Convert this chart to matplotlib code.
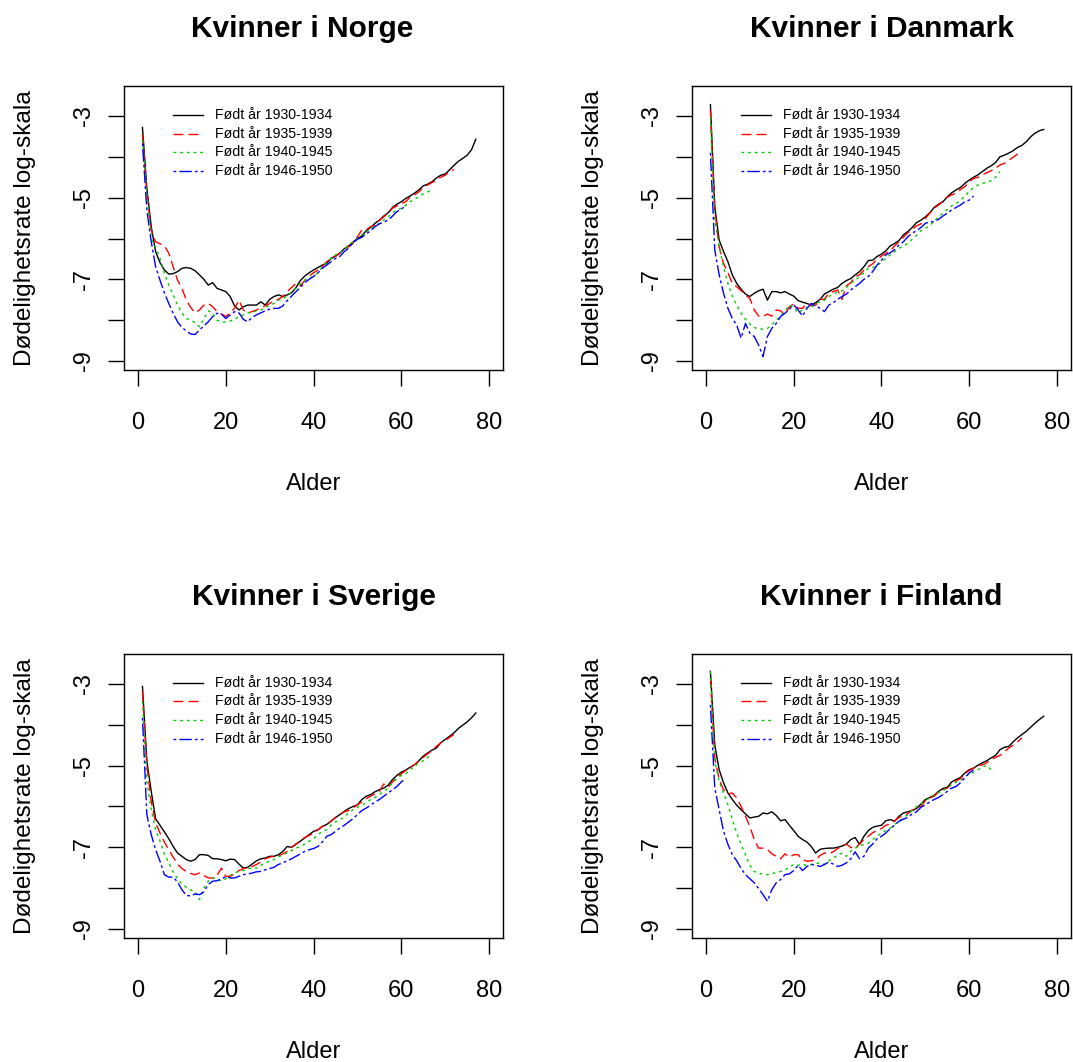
import numpy as np
import matplotlib.pyplot as plt

plt.rcParams['font.family'] = ['Liberation Sans', 'DejaVu Sans']
plt.rcParams['axes.unicode_minus'] = False
plt.rcParams['lines.scale_dashes'] = False

kohorter = ['Født år 1930-1934', 'Født år 1935-1939', 'Født år 1940-1945', 'Født år 1946-1950']
farger = ['black', '#FF0000', '#00CD00', '#0000FF']
linjetyper = ['-', (0, (7.2, 3.6)), (0, (2.0, 2.8)), (0, (2.0, 2.2, 9.0, 2.2))]

# log dødelighetsrate for alder 1, 2, 3, ...
norge_1930 = [-3.28, -4.77, -5.71, -6.32, -6.59, -6.77, -6.87, -6.86, -6.81, -6.73,
              -6.71, -6.73, -6.79, -6.89, -7.00, -7.14, -7.08, -7.22, -7.26, -7.30,
              -7.42, -7.65, -7.75, -7.67, -7.63, -7.63, -7.63, -7.55, -7.63, -7.49,
              -7.42, -7.38, -7.42, -7.38, -7.33, -7.20, -7.03, -6.92, -6.84, -6.77,
              -6.71, -6.65, -6.61, -6.49, -6.43, -6.36, -6.25, -6.18, -6.09, -6.00,
              -5.94, -5.81, -5.73, -5.63, -5.55, -5.45, -5.37, -5.24, -5.16, -5.10,
              -5.02, -4.96, -4.89, -4.81, -4.71, -4.67, -4.61, -4.52, -4.45, -4.42,
              -4.32, -4.21, -4.11, -4.04, -3.96, -3.83, -3.57]
norge_1935 = [-3.45, -4.89, -5.79, -6.08, -6.13, -6.18, -6.36, -6.69, -7.02, -7.22,
              -7.51, -7.69, -7.82, -7.75, -7.63, -7.59, -7.67, -7.79, -7.85, -7.91,
              -7.82, -7.71, -7.51, -7.75, -7.82, -7.79, -7.75, -7.69, -7.65, -7.59,
              -7.52, -7.49, -7.42, -7.30, -7.20, -7.10, -7.16, -7.03, -6.92, -6.84,
              -6.77, -6.69, -6.57, -6.49, -6.44, -6.36, -6.27, -6.20, -6.12, -5.96,
              -5.79, -5.79, -5.71, -5.67, -5.56, -5.47, -5.38, -5.26, -5.20, -5.14,
              -5.10, -4.99, -4.93, -4.86, -4.75, -4.69, -4.63, -4.57, -4.50, -4.45,
              -4.36, -4.31]
norge_1940 = [-3.59, -4.89, -6.00, -6.22, -6.49, -6.85, -7.14, -7.38, -7.63, -7.82,
              -7.96, -8.00, -8.06, -8.16, -7.96, -7.77, -7.83, -8.00, -8.05, -8.04,
              -8.02, -7.98, -7.91, -7.87, -7.82, -7.82, -7.77, -7.75, -7.69, -7.63,
              -7.59, -7.51, -7.47, -7.41, -7.30, -7.22, -7.11, -7.02, -6.98, -6.92,
              -6.84, -6.69, -6.59, -6.49, -6.40, -6.36, -6.27, -6.16, -6.08, -6.00,
              -5.91, -5.86, -5.75, -5.69, -5.63, -5.55, -5.47, -5.37, -5.30, -5.26,
              -5.19, -5.10, -5.04, -4.98, -4.91, -4.86, -4.81]
norge_1946 = [-3.67, -5.30, -6.08, -6.69, -7.02, -7.33, -7.59, -7.83, -8.04, -8.18,
              -8.26, -8.34, -8.35, -8.24, -8.14, -8.04, -7.91, -7.83, -7.85, -7.96,
              -7.87, -7.79, -7.82, -7.98, -8.04, -7.93, -7.87, -7.82, -7.77, -7.73,
              -7.71, -7.71, -7.65, -7.52, -7.41, -7.30, -7.20, -7.08, -7.00, -6.93,
              -6.84, -6.73, -6.65, -6.57, -6.49, -6.44, -6.32, -6.24, -6.10, -6.02,
              -5.97, -5.89, -5.81, -5.71, -5.64, -5.60, -5.55, -5.45, -5.34, -5.29,
              -5.18]

danmark_1930 = [-2.72, -5.22, -6.04, -6.32, -6.57, -6.89, -7.10, -7.24, -7.36, -7.42,
                -7.34, -7.28, -7.24, -7.51, -7.30, -7.30, -7.33, -7.30, -7.36, -7.41,
                -7.52, -7.56, -7.59, -7.63, -7.57, -7.49, -7.36, -7.30, -7.24, -7.20,
                -7.10, -7.03, -6.98, -6.89, -6.81, -6.69, -6.54, -6.53, -6.44, -6.38,
                -6.30, -6.18, -6.12, -6.05, -5.91, -5.83, -5.73, -5.61, -5.55, -5.47,
                -5.37, -5.24, -5.16, -5.10, -4.98, -4.88, -4.81, -4.75, -4.65, -4.57,
                -4.50, -4.44, -4.36, -4.28, -4.22, -4.14, -4.00, -3.96, -3.91, -3.85,
                -3.77, -3.72, -3.63, -3.51, -3.42, -3.36, -3.33]
danmark_1935 = [-2.85, -5.30, -6.20, -6.61, -6.84, -7.10, -7.18, -7.28, -7.38, -7.47,
                -7.75, -7.90, -7.91, -7.85, -7.90, -7.75, -7.77, -7.87, -7.67, -7.60,
                -7.71, -7.71, -7.59, -7.65, -7.63, -7.49, -7.49, -7.34, -7.30, -7.26,
                -7.49, -7.16, -7.08, -6.93, -6.89, -6.77, -6.69, -6.62, -6.51, -6.43,
                -6.36, -6.30, -6.18, -6.08, -5.97, -5.86, -5.78, -5.69, -5.64, -5.51,
                -5.38, -5.26, -5.18, -5.09, -4.99, -4.93, -4.89, -4.80, -4.73, -4.61,
                -4.53, -4.50, -4.44, -4.39, -4.34, -4.28, -4.20, -4.16, -4.09, -4.01,
                -3.93, -3.88]
danmark_1940 = [-3.02, -5.55, -6.20, -6.69, -7.10, -7.41, -7.63, -7.83, -7.98, -8.09,
                -8.18, -8.21, -8.22, -8.20, -8.12, -8.00, -7.90, -7.77, -7.63, -7.69,
                -7.82, -7.75, -7.69, -7.69, -7.59, -7.55, -7.51, -7.42, -7.36, -7.31,
                -7.28, -7.20, -7.10, -7.03, -6.93, -6.84, -6.73, -6.71, -6.67, -6.57,
                -6.49, -6.40, -6.32, -6.24, -6.18, -6.12, -6.02, -5.92, -5.81, -5.75,
                -5.69, -5.56, -5.48, -5.38, -5.29, -5.20, -5.14, -5.07, -4.96, -4.85,
                -4.75, -4.69, -4.65, -4.63, -4.58, -4.50, -4.36]
danmark_1946 = [-3.90, -6.28, -6.89, -7.34, -7.71, -7.96, -8.12, -8.44, -8.08, -8.32,
                -8.40, -8.61, -8.89, -8.40, -8.20, -8.08, -7.91, -7.83, -7.73, -7.63,
                -7.75, -7.90, -7.71, -7.59, -7.65, -7.71, -7.79, -7.63, -7.57, -7.49,
                -7.42, -7.36, -7.26, -7.18, -7.10, -7.00, -6.93, -6.81, -6.65, -6.53,
                -6.40, -6.35, -6.27, -6.16, -6.08, -5.96, -5.87, -5.81, -5.73, -5.63,
                -5.59, -5.59, -5.53, -5.45, -5.38, -5.30, -5.24, -5.18, -5.10, -5.06,
                -4.96]

sverige_1930 = [-3.06, -4.89, -5.63, -6.30, -6.46, -6.62, -6.79, -6.98, -7.14, -7.22,
                -7.30, -7.34, -7.30, -7.18, -7.18, -7.20, -7.28, -7.28, -7.30, -7.33,
                -7.29, -7.30, -7.41, -7.51, -7.49, -7.41, -7.33, -7.28, -7.26, -7.22,
                -7.22, -7.18, -7.10, -6.98, -7.00, -6.92, -6.85, -6.77, -6.69, -6.61,
                -6.57, -6.49, -6.44, -6.36, -6.27, -6.20, -6.12, -6.05, -6.00, -5.96,
                -5.83, -5.75, -5.71, -5.64, -5.59, -5.55, -5.48, -5.34, -5.24, -5.16,
                -5.11, -5.04, -4.98, -4.88, -4.77, -4.69, -4.62, -4.57, -4.44, -4.36,
                -4.28, -4.20, -4.09, -4.01, -3.93, -3.83, -3.71]
sverige_1935 = [-3.18, -4.98, -5.87, -6.40, -6.65, -6.87, -7.06, -7.24, -7.41, -7.52,
                -7.59, -7.64, -7.67, -7.63, -7.69, -7.75, -7.75, -7.69, -7.51, -7.71,
                -7.71, -7.65, -7.57, -7.52, -7.51, -7.47, -7.42, -7.36, -7.28, -7.24,
                -7.22, -7.22, -7.16, -7.10, -7.00, -6.93, -6.84, -6.76, -6.71, -6.65,
                -6.57, -6.49, -6.44, -6.36, -6.27, -6.20, -6.13, -6.10, -6.04, -5.96,
                -5.89, -5.81, -5.75, -5.69, -5.63, -5.45, -5.53, -5.40, -5.29, -5.20,
                -5.12, -5.04, -4.98, -4.89, -4.80, -4.71, -4.63, -4.53, -4.44, -4.39,
                -4.31, -4.24]
sverige_1940 = [-3.42, -5.38, -6.08, -6.57, -6.85, -7.16, -7.38, -7.60, -7.77, -7.90,
                -7.98, -8.04, -8.09, -8.28, -8.00, -7.83, -7.75, -7.77, -7.83, -7.77,
                -7.69, -7.63, -7.59, -7.57, -7.54, -7.49, -7.51, -7.44, -7.38, -7.34,
                -7.30, -7.24, -7.18, -7.14, -7.08, -7.02, -6.98, -6.92, -6.85, -6.79,
                -6.69, -6.61, -6.57, -6.46, -6.38, -6.32, -6.27, -6.16, -6.08, -6.02,
                -5.97, -5.91, -5.83, -5.78, -5.71, -5.63, -5.55, -5.42, -5.32, -5.24,
                -5.20, -5.10, -5.02, -4.93, -4.88, -4.80, -4.73]
sverige_1946 = [-3.83, -6.20, -6.69, -7.06, -7.34, -7.67, -7.73, -7.73, -7.85, -8.04,
                -8.18, -8.19, -8.14, -8.16, -8.09, -7.91, -7.83, -7.82, -7.77, -7.72,
                -7.75, -7.75, -7.71, -7.67, -7.65, -7.63, -7.60, -7.59, -7.55, -7.52,
                -7.49, -7.42, -7.38, -7.33, -7.28, -7.22, -7.16, -7.10, -7.06, -7.03,
                -6.98, -6.87, -6.73, -6.69, -6.61, -6.53, -6.46, -6.38, -6.30, -6.20,
                -6.10, -6.04, -5.97, -5.89, -5.83, -5.75, -5.67, -5.59, -5.51, -5.40,
                -5.32]

finland_1930 = [-2.69, -4.49, -5.10, -5.42, -5.67, -5.83, -5.97, -6.08, -6.18, -6.28,
                -6.26, -6.24, -6.16, -6.18, -6.13, -6.22, -6.35, -6.32, -6.46, -6.59,
                -6.73, -6.81, -6.87, -6.98, -7.14, -7.05, -7.03, -7.02, -7.02, -7.00,
                -6.97, -6.92, -6.81, -6.76, -6.93, -6.73, -6.59, -6.51, -6.48, -6.46,
                -6.35, -6.32, -6.36, -6.24, -6.16, -6.13, -6.10, -6.05, -5.94, -5.83,
                -5.78, -5.73, -5.63, -5.56, -5.53, -5.40, -5.34, -5.29, -5.18, -5.10,
                -5.06, -4.99, -4.93, -4.88, -4.81, -4.75, -4.61, -4.55, -4.53, -4.42,
                -4.32, -4.24, -4.16, -4.06, -3.96, -3.87, -3.79]
finland_1935 = [-2.85, -4.81, -5.34, -5.59, -5.69, -5.67, -5.79, -6.00, -6.24, -6.49,
                -6.81, -7.02, -7.02, -7.05, -7.16, -7.22, -7.28, -7.16, -7.24, -7.18,
                -7.18, -7.30, -7.34, -7.33, -7.31, -7.20, -7.14, -7.16, -7.11, -7.03,
                -6.98, -6.92, -7.00, -7.03, -6.92, -6.81, -6.73, -6.64, -6.59, -6.54,
                -6.46, -6.43, -6.35, -6.27, -6.22, -6.18, -6.09, -6.04, -6.00, -5.86,
                -5.79, -5.75, -5.64, -5.59, -5.55, -5.45, -5.37, -5.32, -5.20, -5.12,
                -5.06, -5.01, -4.98, -4.93, -4.85, -4.80, -4.75, -4.67, -4.57, -4.50,
                -4.42, -4.32]
finland_1940 = [-2.69, -4.89, -5.38, -5.67, -5.96, -6.32, -6.65, -6.93, -7.18, -7.44,
                -7.59, -7.64, -7.65, -7.67, -7.64, -7.62, -7.59, -7.55, -7.49, -7.42,
                -7.44, -7.41, -7.45, -7.42, -7.39, -7.39, -7.42, -7.33, -7.26, -7.20,
                -7.14, -7.22, -7.10, -7.02, -6.97, -6.93, -6.90, -6.81, -6.73, -6.65,
                -6.59, -6.53, -6.44, -6.36, -6.28, -6.20, -6.10, -6.00, -5.94, -5.86,
                -5.79, -5.71, -5.66, -5.61, -5.55, -5.47, -5.41, -5.37, -5.27, -5.20,
                -5.16, -5.10, -5.04, -4.99, -5.10]
finland_1946 = [-3.51, -5.55, -6.08, -6.61, -6.93, -7.18, -7.33, -7.52, -7.67, -7.77,
                -7.87, -8.01, -8.16, -8.32, -8.04, -7.87, -7.79, -7.67, -7.65, -7.57,
                -7.44, -7.57, -7.47, -7.42, -7.44, -7.47, -7.42, -7.36, -7.41, -7.47,
                -7.44, -7.38, -7.28, -7.11, -7.28, -7.22, -7.02, -6.92, -6.79, -6.73,
                -6.65, -6.54, -6.46, -6.36, -6.31, -6.27, -6.18, -6.13, -6.02, -5.96,
                -5.89, -5.83, -5.78, -5.71, -5.63, -5.55, -5.51, -5.42, -5.30, -5.18,
                -5.10]

land = ['Norge', 'Danmark', 'Sverige', 'Finland']
rater = {
    'Norge': [norge_1930, norge_1935, norge_1940, norge_1946],
    'Danmark': [danmark_1930, danmark_1935, danmark_1940, danmark_1946],
    'Sverige': [sverige_1930, sverige_1935, sverige_1940, sverige_1946],
    'Finland': [finland_1930, finland_1935, finland_1940, finland_1946],
}

fig = plt.figure(figsize=(10.73, 10.62), dpi=100)
plassering = {
    'Norge': [0.1156, 0.6516, 0.3532, 0.2674],
    'Danmark': [0.6449, 0.6516, 0.3532, 0.2674],
    'Sverige': [0.1156, 0.1168, 0.3532, 0.2674],
    'Finland': [0.6449, 0.1168, 0.3532, 0.2674],
}
tittel_x = {'Norge': 0.47, 'Danmark': 0.5, 'Sverige': 0.5, 'Finland': 0.5}

for navn in land:
    ax = fig.add_axes(plassering[navn])
    for serie, farge, stil in zip(rater[navn], farger, linjetyper):
        alder = np.arange(1, len(serie) + 1)
        ax.plot(alder, serie, color=farge, linestyle=stil, linewidth=1.0)

    # forklaring øverst til venstre
    for i, (tekst, farge, stil) in enumerate(zip(kohorter, farger, linjetyper)):
        y = 0.898 - 0.0653 * i
        ax.plot([0.130, 0.209], [y, y], transform=ax.transAxes,
                color=farge, linestyle=stil, linewidth=1.0)
        ax.text(0.240, y, tekst, transform=ax.transAxes, fontsize=10.2, va='center')

    ax.set_xlim(-3.2, 83.2)
    ax.set_ylim(-9.22, -2.265)
    ax.set_xticks([0, 20, 40, 60, 80])
    ax.set_yticks(list(range(-9, -2)))
    ax.set_yticklabels([str(t) if t % 2 else '' for t in range(-9, -2)])
    ax.tick_params(direction='out', length=11.5, width=1.0, labelsize=17)
    ax.tick_params(axis='x', pad=19)
    ax.tick_params(axis='y', pad=9.5, labelrotation=90)
    for lab in ax.get_yticklabels():
        lab.set_verticalalignment('center')
    for sp in ax.spines.values():
        sp.set_linewidth(1.0)

    ax.text(tittel_x[navn], 1.1736, f'Kvinner i {navn}', transform=ax.transAxes,
            fontsize=21.5, fontweight='bold', ha='center', va='baseline')
    ax.set_xlabel('Alder', fontsize=17, va='center')
    ax.xaxis.set_label_coords(0.5, -0.40)
    ax.set_ylabel('Dødelighetsrate log-skala', fontsize=17.6, va='center')
    ax.yaxis.set_label_coords(-0.261, 0.5)

fig.savefig('out.png', dpi=100)
